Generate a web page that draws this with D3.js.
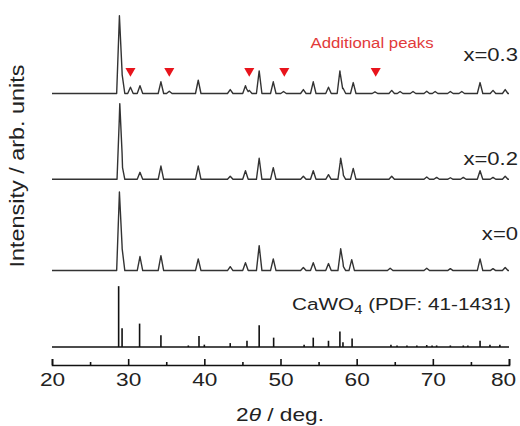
<!DOCTYPE html>
<html><head><meta charset="utf-8">
<script src="https://cdn.jsdelivr.net/npm/d3@7"></script>
<style>
html,body{margin:0;padding:0;background:#fff;}
svg{display:block;}
text{font-family:"Liberation Sans",Arial,sans-serif;}
</style></head>
<body>
<svg id="chart" width="520" height="426"></svg>
<script>
// ---- data ----
const xTicks = [20, 30, 40, 50, 60, 70, 80];
const xMinorTicks = [25, 35, 45, 55, 65, 75];
const seriesLabels = ["x=0.3", "x=0.2", "x=0"];
const seriesOffsets = [325, 215, 98];
// [2theta, relative intensity]
const peaksX03 = [[28.85,99],[29.2,25],[30.3,8],[31.55,10],[34.3,15],[35.4,3],[39.2,17],[43.4,5],[45.4,10],[45.9,4],[47.2,29],[49.05,15],[50.4,2.5],[53.0,5],[54.3,15],[56.3,8],[57.8,29],[58.2,7],[59.55,14],[62.4,2],[64.6,4],[65.7,2.5],[67.4,2.5],[69.2,3],[70.3,2.5],[72.3,2.5],[73.8,2.5],[76.2,14],[77.9,4],[79.5,5]];
const peaksX02 = [[28.9,94],[29.2,18],[31.55,9],[34.3,17],[39.2,17],[43.4,4],[45.4,11],[47.2,27],[49.05,15],[53.0,4],[54.3,11],[56.3,6],[57.9,26],[58.2,6],[59.55,14],[64.6,4],[69.2,3],[70.5,2.5],[72.3,2],[74.0,2.5],[76.2,11],[77.9,2.5],[79.5,4]];
const peaksX0 = [[28.85,100],[29.2,29],[31.55,18],[34.3,19],[39.2,15],[43.4,5],[45.4,10],[47.2,32],[49.05,15],[53.0,4],[54.3,10],[56.3,9],[57.9,27],[58.2,6],[59.35,14],[64.4,3],[69.2,3],[72.3,2.5],[76.2,15],[77.9,2.5],[79.5,4]];
// CaWO4 reference (PDF 41-1431) stick pattern
const refPos = [28.75,29.2,31.5,34.3,37.9,39.3,40.0,43.4,45.6,47.2,49.1,53.1,54.3,56.3,57.8,58.2,59.4,64.5,65.3,66.6,67.9,69.2,69.9,70.5,72.3,74.0,74.6,76.2,77.5,78.8];
const refInt = [78,24,30,15,2,14,3,5,8,28,12,3,12,8,20,6,11,3,2,2,2,2.5,2,2,2,2,2,8,3,3];
const additionalPeaks = [30.3, 35.4, 45.9, 50.5, 62.5];
const refLabel = "CaWO";
const refLabelSub = "4";
const refLabelRest = " (PDF: 41-1431)";
const additionalLabel = "Additional peaks";
const xTitle = ["2", "θ", " / deg."];
const yTitle = "Intensity / arb. units";

// ---- layout ----
const svg = d3.select("#chart");
const x = d3.scaleLinear().domain([20, 80]).range([52, 509]);
const y = d3.scaleLinear().domain([0, 430]).range([347, 347 - 430 * 0.78]);
const SX = 1.26;
const axisY = 365;
const markerLevel = 354;
const halfW = 0.36;

function profile(peaks) {
  const xs = new Set([20, 80]);
  peaks.forEach(([p]) => { xs.add(p - halfW); xs.add(p); xs.add(p + halfW); });
  const sorted = Array.from(xs).filter(v => v >= 20 && v <= 80).sort((a, b) => a - b);
  return sorted.map(v => {
    let s = 0;
    peaks.forEach(([p, h]) => { s += Math.max(0, h * (1 - Math.abs(v - p) / halfW)); });
    return [v, s];
  });
}

const allPeaks = [peaksX03, peaksX02, peaksX0];
allPeaks.forEach((pk, i) => {
  const off = seriesOffsets[i];
  const line = d3.line().x(d => x(d[0])).y(d => y(d[1] + off));
  svg.append("path").datum(profile(pk))
    .attr("d", line).attr("fill", "none")
    .attr("stroke", "#333").attr("stroke-width", 1.4)
    .attr("stroke-linejoin", "round");
});

// reference sticks
svg.append("line").attr("x1", x(20)).attr("x2", x(80))
  .attr("y1", y(0)).attr("y2", y(0)).attr("stroke", "#111").attr("stroke-width", 1.6);
svg.selectAll("line.stick").data(refPos).join("line").attr("class", "stick")
  .attr("x1", d => x(d)).attr("x2", d => x(d))
  .attr("y1", y(0)).attr("y2", (d, i) => y(refInt[i]))
  .attr("stroke", "#111").attr("stroke-width", 1.6);

// markers
const tri = d3.symbol().type(d3.symbolTriangle).size(44);
svg.selectAll("path.mk").data(additionalPeaks).join("path").attr("class", "mk")
  .attr("d", tri)
  .attr("transform", d => `translate(${x(d)},${y(markerLevel)}) rotate(180)`)
  .attr("fill", "#e8141c");

// axis
const ax = svg.append("g").attr("transform", `translate(0,${axisY})`)
  .call(d3.axisBottom(x).tickValues(xTicks).tickSizeInner(-6).tickSizeOuter(-6).tickPadding(8).tickFormat(d3.format("d")));
ax.select(".domain").attr("stroke", "#111").attr("stroke-width", 1.6);
ax.selectAll(".tick line").attr("stroke", "#111").attr("stroke-width", 1.6);
ax.selectAll(".tick text").attr("font-size", 18).attr("fill", "#222")
  .attr("font-family", "'Liberation Sans', Arial, sans-serif")
  .attr("transform", d => d === 80 ? `translate(-6,0) scale(${SX},1)` : `scale(${SX},1)`);
const axm = svg.append("g").attr("transform", `translate(0,${axisY})`)
  .call(d3.axisBottom(x).tickValues(xMinorTicks).tickSizeInner(-3).tickSizeOuter(0).tickFormat(""));
axm.select(".domain").remove();
axm.selectAll(".tick line").attr("stroke", "#111").attr("stroke-width", 1.6);

// labels
function label(txt, px, py, size, anchor, color) {
  return svg.append("text").text(txt)
    .attr("transform", `translate(${px},${py}) scale(${SX},1)`)
    .attr("font-size", size).attr("text-anchor", anchor).attr("fill", color || "#222");
}
const labelY = [61, 165, 240];
seriesLabels.forEach((t, i) => label(t, 518, labelY[i], 17.5, "end"));

const ref = svg.append("text")
  .attr("transform", `translate(511,310) scale(${SX - 0.04},1)`)
  .attr("font-size", 17).attr("text-anchor", "end").attr("fill", "#222");
ref.append("tspan").text(refLabel);
ref.append("tspan").text(refLabelSub).attr("font-size", 12).attr("dy", 4);
ref.append("tspan").text(refLabelRest).attr("dy", -4);

svg.append("text").text(additionalLabel)
  .attr("transform", `translate(372,48) scale(1.12,1)`)
  .attr("font-family", "Lato, 'Open Sans', sans-serif")
  .attr("font-size", 15).attr("text-anchor", "middle").attr("fill", "#e23a3a");

const xt = svg.append("text")
  .attr("transform", `translate(280,421) scale(${SX},1)`)
  .attr("font-size", 18).attr("text-anchor", "middle").attr("fill", "#222");
xt.append("tspan").text(xTitle[0]);
xt.append("tspan").text(xTitle[1]).attr("font-style", "italic");
xt.append("tspan").text(xTitle[2]);

svg.append("text").text(yTitle)
  .attr("transform", `translate(24,166) rotate(-90) scale(1.3,1.12)`)
  .attr("font-size", 18).attr("text-anchor", "middle").attr("fill", "#222");
</script>
</body></html>
